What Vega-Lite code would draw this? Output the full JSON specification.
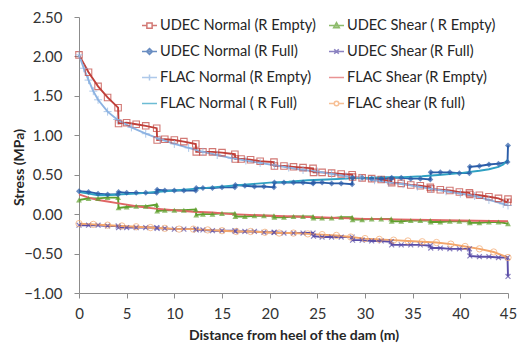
{
  "$schema": "https://vega.github.io/schema/vega-lite/v6.json",
  "width": 429,
  "height": 276,
  "autosize": {"type": "none"},
  "padding": {"left": 79, "top": 17, "right": 9, "bottom": 51},
  "background": "white",
  "config": {
    "view": {"stroke": null},
    "axis": {"grid": false, "domainColor": "#8c8c8c", "tickColor": "#8c8c8c", "tickSize": 5, "labelFont": "Lato", "labelFontSize": 15, "labelColor": "#333333", "titleFont": "Lato", "titleFontSize": 14, "titleFontWeight": "bold", "titleColor": "#262626"},
    "legend": {"orient": "none", "legendY": 0, "padding": 0, "symbolSize": 225, "symbolStrokeWidth": 1.5, "labelFont": "Lato", "labelFontSize": 14.6, "labelColor": "#262626", "labelOffset": 2, "rowPadding": 10, "labelLimit": 0}
  },
  "resolve": {"scale": {"stroke": "independent", "fill": "independent", "shape": "independent"}},
  "datasets": {
    "names": [
      {"k": "A", "s": "UDEC Normal (R Empty)"},
      {"k": "B", "s": "UDEC Shear ( R Empty)"},
      {"k": "C", "s": "UDEC Normal (R Full)"},
      {"k": "D", "s": "UDEC Shear (R Full)"},
      {"k": "E", "s": "FLAC Normal (R Empty)"},
      {"k": "F", "s": "FLAC Shear (R Empty)"},
      {"k": "G", "s": "FLAC Normal ( R Full)"},
      {"k": "H", "s": "FLAC shear  (R full)"}
    ],
    "pts": [
      {"k":"A","x":0,"y":2.02},{"k":"A","x":1,"y":1.8},{"k":"A","x":2,"y":1.62},{"k":"A","x":3,"y":1.48},{"k":"A","x":4.1,"y":1.35},
      {"k":"A","x":4.15,"y":1.15},{"k":"A","x":5,"y":1.16},{"k":"A","x":6,"y":1.14},{"k":"A","x":7,"y":1.12},{"k":"A","x":8.15,"y":1.09},
      {"k":"A","x":8.2,"y":0.94},{"k":"A","x":9,"y":0.95},{"k":"A","x":10,"y":0.94},{"k":"A","x":11,"y":0.92},{"k":"A","x":12.25,"y":0.89},
      {"k":"A","x":12.3,"y":0.79},{"k":"A","x":13,"y":0.79},{"k":"A","x":14,"y":0.79},{"k":"A","x":15,"y":0.78},{"k":"A","x":16.35,"y":0.76},
      {"k":"A","x":16.4,"y":0.7},{"k":"A","x":17,"y":0.7},{"k":"A","x":18,"y":0.69},{"k":"A","x":19,"y":0.67},{"k":"A","x":20.45,"y":0.66},
      {"k":"A","x":20.5,"y":0.61},{"k":"A","x":21.5,"y":0.61},{"k":"A","x":22.5,"y":0.6},{"k":"A","x":23.5,"y":0.59},{"k":"A","x":24.55,"y":0.58},
      {"k":"A","x":24.6,"y":0.53},{"k":"A","x":25.5,"y":0.53},{"k":"A","x":26.5,"y":0.52},{"k":"A","x":27.5,"y":0.51},{"k":"A","x":28.65,"y":0.5},
      {"k":"A","x":28.7,"y":0.47},{"k":"A","x":29.7,"y":0.46},{"k":"A","x":30.7,"y":0.45},{"k":"A","x":31.7,"y":0.44},{"k":"A","x":32.75,"y":0.42},
      {"k":"A","x":32.8,"y":0.4},{"k":"A","x":33.8,"y":0.39},{"k":"A","x":34.8,"y":0.37},{"k":"A","x":35.8,"y":0.36},{"k":"A","x":36.85,"y":0.34},
      {"k":"A","x":36.9,"y":0.32},{"k":"A","x":37.9,"y":0.31},{"k":"A","x":38.9,"y":0.3},{"k":"A","x":39.9,"y":0.28},{"k":"A","x":40.95,"y":0.27},
      {"k":"A","x":41,"y":0.25},{"k":"A","x":42,"y":0.24},{"k":"A","x":43,"y":0.22},{"k":"A","x":44,"y":0.2},{"k":"A","x":44.95,"y":0.15},{"k":"A","x":45,"y":0.19},

      {"k":"C","x":0,"y":0.29},{"k":"C","x":1,"y":0.28},{"k":"C","x":2,"y":0.26},{"k":"C","x":3,"y":0.25},{"k":"C","x":4.1,"y":0.25},
      {"k":"C","x":4.15,"y":0.28},{"k":"C","x":5,"y":0.27},{"k":"C","x":6,"y":0.27},{"k":"C","x":7,"y":0.27},{"k":"C","x":8.15,"y":0.27},
      {"k":"C","x":8.2,"y":0.31},{"k":"C","x":9,"y":0.3},{"k":"C","x":10,"y":0.3},{"k":"C","x":11,"y":0.3},{"k":"C","x":12.25,"y":0.3},
      {"k":"C","x":12.3,"y":0.33},{"k":"C","x":13,"y":0.33},{"k":"C","x":14,"y":0.33},{"k":"C","x":15,"y":0.34},{"k":"C","x":16.35,"y":0.34},
      {"k":"C","x":16.4,"y":0.37},{"k":"C","x":17.4,"y":0.36},{"k":"C","x":18.4,"y":0.35},{"k":"C","x":19.4,"y":0.35},{"k":"C","x":20.45,"y":0.34},
      {"k":"C","x":20.5,"y":0.4},{"k":"C","x":21.5,"y":0.4},{"k":"C","x":22.5,"y":0.4},{"k":"C","x":23.5,"y":0.4},{"k":"C","x":24.55,"y":0.39},
      {"k":"C","x":24.6,"y":0.4},{"k":"C","x":25.5,"y":0.4},{"k":"C","x":26.5,"y":0.39},{"k":"C","x":27.5,"y":0.39},{"k":"C","x":28.65,"y":0.38},
      {"k":"C","x":28.7,"y":0.46},{"k":"C","x":29.7,"y":0.46},{"k":"C","x":30.7,"y":0.45},{"k":"C","x":31.7,"y":0.45},{"k":"C","x":32.75,"y":0.45},
      {"k":"C","x":32.8,"y":0.46},{"k":"C","x":33.8,"y":0.46},{"k":"C","x":34.8,"y":0.45},{"k":"C","x":35.8,"y":0.45},{"k":"C","x":36.85,"y":0.44},
      {"k":"C","x":36.9,"y":0.53},{"k":"C","x":37.9,"y":0.53},{"k":"C","x":38.9,"y":0.53},{"k":"C","x":39.9,"y":0.52},{"k":"C","x":40.95,"y":0.52},
      {"k":"C","x":41,"y":0.6},{"k":"C","x":42,"y":0.61},{"k":"C","x":43,"y":0.63},{"k":"C","x":44,"y":0.64},{"k":"C","x":44.95,"y":0.66},{"k":"C","x":45,"y":0.87},

      {"k":"E","x":0,"y":2.02},{"k":"E","x":0.5,"y":1.85},{"k":"E","x":1,"y":1.7},{"k":"E","x":1.5,"y":1.56},{"k":"E","x":2,"y":1.45},{"k":"E","x":3,"y":1.3},{"k":"E","x":4,"y":1.2},{"k":"E","x":5.5,"y":1.1},{"k":"E","x":7,"y":1.02},{"k":"E","x":8.5,"y":0.95},{"k":"E","x":10,"y":0.89},{"k":"E","x":11.5,"y":0.84},{"k":"E","x":13,"y":0.79},{"k":"E","x":14.5,"y":0.75},{"k":"E","x":16,"y":0.71},{"k":"E","x":17.5,"y":0.68},{"k":"E","x":19,"y":0.65},{"k":"E","x":20.5,"y":0.62},{"k":"E","x":22,"y":0.59},{"k":"E","x":23.5,"y":0.56},{"k":"E","x":25,"y":0.54},{"k":"E","x":26.5,"y":0.51},{"k":"E","x":28,"y":0.48},{"k":"E","x":29.5,"y":0.46},{"k":"E","x":31,"y":0.43},{"k":"E","x":32.5,"y":0.4},{"k":"E","x":34,"y":0.38},{"k":"E","x":35.5,"y":0.35},{"k":"E","x":37,"y":0.32},{"k":"E","x":38.5,"y":0.29},{"k":"E","x":40,"y":0.26},{"k":"E","x":41.5,"y":0.23},{"k":"E","x":43,"y":0.18},{"k":"E","x":44.5,"y":0.13},{"k":"E","x":45,"y":0.11},

      {"k":"G","x":0,"y":0.28},{"k":"G","x":1,"y":0.26},{"k":"G","x":2,"y":0.24},{"k":"G","x":3,"y":0.24},{"k":"G","x":4,"y":0.25},{"k":"G","x":6,"y":0.26},{"k":"G","x":8,"y":0.28},{"k":"G","x":10,"y":0.3},{"k":"G","x":12,"y":0.32},{"k":"G","x":14,"y":0.34},{"k":"G","x":16,"y":0.36},{"k":"G","x":18,"y":0.38},{"k":"G","x":20,"y":0.4},{"k":"G","x":22,"y":0.41},{"k":"G","x":24,"y":0.43},{"k":"G","x":26,"y":0.44},{"k":"G","x":28,"y":0.45},{"k":"G","x":30,"y":0.46},{"k":"G","x":32,"y":0.47},{"k":"G","x":34,"y":0.47},{"k":"G","x":36,"y":0.48},{"k":"G","x":38,"y":0.5},{"k":"G","x":40,"y":0.52},{"k":"G","x":42,"y":0.55},{"k":"G","x":43,"y":0.57},{"k":"G","x":44,"y":0.6},{"k":"G","x":44.5,"y":0.63},{"k":"G","x":45,"y":0.69},

      {"k":"B","x":0,"y":0.18},{"k":"B","x":1,"y":0.2},{"k":"B","x":2,"y":0.2},{"k":"B","x":3,"y":0.21},{"k":"B","x":4.1,"y":0.21},
      {"k":"B","x":4.15,"y":0.08},{"k":"B","x":5,"y":0.09},{"k":"B","x":6,"y":0.1},{"k":"B","x":7,"y":0.1},{"k":"B","x":8.15,"y":0.12},
      {"k":"B","x":8.2,"y":0.04},{"k":"B","x":9,"y":0.05},{"k":"B","x":10,"y":0.05},{"k":"B","x":11,"y":0.05},{"k":"B","x":12.25,"y":0.06},
      {"k":"B","x":12.3,"y":-0.01},{"k":"B","x":13,"y":0},{"k":"B","x":14,"y":0},{"k":"B","x":15,"y":0.01},{"k":"B","x":16.35,"y":0.01},
      {"k":"B","x":16.4,"y":-0.03},{"k":"B","x":17.4,"y":-0.03},{"k":"B","x":18.4,"y":-0.02},{"k":"B","x":19.4,"y":-0.02},{"k":"B","x":20.45,"y":-0.02},
      {"k":"B","x":20.5,"y":-0.04},{"k":"B","x":21.5,"y":-0.04},{"k":"B","x":22.5,"y":-0.03},{"k":"B","x":23.5,"y":-0.03},{"k":"B","x":24.55,"y":-0.03},
      {"k":"B","x":24.6,"y":-0.05},{"k":"B","x":25.5,"y":-0.05},{"k":"B","x":26.5,"y":-0.05},{"k":"B","x":27.5,"y":-0.04},{"k":"B","x":28.65,"y":-0.04},
      {"k":"B","x":28.7,"y":-0.07},{"k":"B","x":29.7,"y":-0.07},{"k":"B","x":30.7,"y":-0.06},{"k":"B","x":31.7,"y":-0.06},{"k":"B","x":32.75,"y":-0.06},
      {"k":"B","x":32.8,"y":-0.09},{"k":"B","x":33.8,"y":-0.09},{"k":"B","x":34.8,"y":-0.08},{"k":"B","x":35.8,"y":-0.08},{"k":"B","x":36.85,"y":-0.08},
      {"k":"B","x":36.9,"y":-0.1},{"k":"B","x":37.9,"y":-0.1},{"k":"B","x":38.9,"y":-0.09},{"k":"B","x":39.9,"y":-0.09},{"k":"B","x":40.95,"y":-0.09},
      {"k":"B","x":41,"y":-0.11},{"k":"B","x":42,"y":-0.11},{"k":"B","x":43,"y":-0.1},{"k":"B","x":44,"y":-0.1},{"k":"B","x":45,"y":-0.12},

      {"k":"F","x":0,"y":0.25},{"k":"F","x":1,"y":0.21},{"k":"F","x":2,"y":0.18},{"k":"F","x":3,"y":0.16},{"k":"F","x":4,"y":0.14},{"k":"F","x":6,"y":0.1},{"k":"F","x":8,"y":0.07},{"k":"F","x":10,"y":0.05},{"k":"F","x":12,"y":0.03},{"k":"F","x":14,"y":0.02},{"k":"F","x":16,"y":0},{"k":"F","x":20,"y":-0.02},{"k":"F","x":25,"y":-0.04},{"k":"F","x":30,"y":-0.06},{"k":"F","x":35,"y":-0.07},{"k":"F","x":40,"y":-0.08},{"k":"F","x":45,"y":-0.09},

      {"k":"D","x":0,"y":-0.14},{"k":"D","x":1,"y":-0.14},{"k":"D","x":2,"y":-0.14},{"k":"D","x":3,"y":-0.15},{"k":"D","x":4.1,"y":-0.15},
      {"k":"D","x":4.15,"y":-0.17},{"k":"D","x":5,"y":-0.17},{"k":"D","x":6,"y":-0.17},{"k":"D","x":7,"y":-0.17},{"k":"D","x":8.15,"y":-0.17},
      {"k":"D","x":8.2,"y":-0.18},{"k":"D","x":9,"y":-0.18},{"k":"D","x":10,"y":-0.19},{"k":"D","x":11,"y":-0.19},{"k":"D","x":12.25,"y":-0.19},
      {"k":"D","x":12.3,"y":-0.2},{"k":"D","x":13,"y":-0.2},{"k":"D","x":14,"y":-0.21},{"k":"D","x":15,"y":-0.21},{"k":"D","x":16.35,"y":-0.21},
      {"k":"D","x":16.4,"y":-0.22},{"k":"D","x":17.4,"y":-0.22},{"k":"D","x":18.4,"y":-0.22},{"k":"D","x":19.4,"y":-0.23},{"k":"D","x":20.45,"y":-0.23},
      {"k":"D","x":20.5,"y":-0.23},{"k":"D","x":21.5,"y":-0.24},{"k":"D","x":22.5,"y":-0.24},{"k":"D","x":23.5,"y":-0.24},{"k":"D","x":24.55,"y":-0.24},
      {"k":"D","x":24.6,"y":-0.28},{"k":"D","x":25.5,"y":-0.29},{"k":"D","x":26.5,"y":-0.29},{"k":"D","x":27.5,"y":-0.29},{"k":"D","x":28.65,"y":-0.29},
      {"k":"D","x":28.7,"y":-0.33},{"k":"D","x":29.7,"y":-0.33},{"k":"D","x":30.7,"y":-0.34},{"k":"D","x":31.7,"y":-0.34},{"k":"D","x":32.75,"y":-0.35},
      {"k":"D","x":32.8,"y":-0.39},{"k":"D","x":33.8,"y":-0.39},{"k":"D","x":34.8,"y":-0.39},{"k":"D","x":35.8,"y":-0.39},{"k":"D","x":36.85,"y":-0.4},
      {"k":"D","x":36.9,"y":-0.43},{"k":"D","x":37.9,"y":-0.43},{"k":"D","x":38.9,"y":-0.44},{"k":"D","x":39.9,"y":-0.44},{"k":"D","x":40.95,"y":-0.44},
      {"k":"D","x":41,"y":-0.53},{"k":"D","x":42,"y":-0.54},{"k":"D","x":43,"y":-0.54},{"k":"D","x":44,"y":-0.55},{"k":"D","x":44.95,"y":-0.55},{"k":"D","x":45,"y":-0.79},

      {"k":"H","x":0,"y":-0.12},{"k":"H","x":1.5,"y":-0.13},{"k":"H","x":3,"y":-0.14},{"k":"H","x":4.5,"y":-0.15},{"k":"H","x":6,"y":-0.16},{"k":"H","x":7.5,"y":-0.17},{"k":"H","x":9,"y":-0.18},{"k":"H","x":10.5,"y":-0.19},{"k":"H","x":12,"y":-0.19},{"k":"H","x":13.5,"y":-0.2},{"k":"H","x":15,"y":-0.21},{"k":"H","x":16.5,"y":-0.22},{"k":"H","x":18,"y":-0.22},{"k":"H","x":19.5,"y":-0.23},{"k":"H","x":21,"y":-0.24},{"k":"H","x":22.5,"y":-0.24},{"k":"H","x":24,"y":-0.25},{"k":"H","x":25.5,"y":-0.26},{"k":"H","x":27,"y":-0.27},{"k":"H","x":28.5,"y":-0.29},{"k":"H","x":30,"y":-0.31},{"k":"H","x":31.5,"y":-0.32},{"k":"H","x":33,"y":-0.33},{"k":"H","x":34.5,"y":-0.34},{"k":"H","x":36,"y":-0.35},{"k":"H","x":37.5,"y":-0.36},{"k":"H","x":39,"y":-0.38},{"k":"H","x":40.5,"y":-0.41},{"k":"H","x":42,"y":-0.44},{"k":"H","x":43.5,"y":-0.48},{"k":"H","x":45,"y":-0.55}
    ]
  },
  "data": {"name": "pts"},
  "transform": [{"lookup": "k", "from": {"data": {"name": "names"}, "key": "k", "fields": ["s"]}}],
  "encoding": {
    "x": {"field": "x", "type": "quantitative", "scale": {"domain": [0, 45], "nice": false}, "axis": {"values": [0, 5, 10, 15, 20, 25, 30, 35, 40, 45], "title": "Distance from heel of the dam (m)", "labelPadding": 8, "titlePadding": 7, "labelFlush": false}},
    "y": {"field": "y", "type": "quantitative", "scale": {"domain": [-1, 2.5], "nice": false, "zero": false}, "axis": {"values": [-1, -0.5, 0, 0.5, 1, 1.5, 2, 2.5], "format": ".2f", "title": "Stress  (MPa)", "labelPadding": 12, "titleX": -53, "titleY": 150, "labelFlush": false}}
  },
  "layer": [
    {
      "mark": {"type": "line", "strokeWidth": 1.9},
      "encoding": {
        "color": {"field": "k", "type": "nominal", "legend": null, "scale": {"domain": ["A", "B", "C", "D", "E", "F", "G", "H"], "range": ["#C0403A", "#5FA02E", "#2B5DA8", "#5B4EA8", "#8DB3E2", "#E06666", "#2FA0C2", "#F4A66A"]}}
      }
    },
    {"transform": [{"filter": {"field": "k", "equal": "A"}}], "mark": {"type": "point", "shape": "square", "filled": false, "size": 42, "strokeWidth": 1.1}, "encoding": {"color": {"field": "k", "type": "nominal", "legend": null}}},
    {"transform": [{"filter": {"field": "k", "equal": "B"}}], "mark": {"type": "point", "shape": "triangle-up", "filled": true, "size": 34}, "encoding": {"color": {"field": "k", "type": "nominal", "legend": null}}},
    {"transform": [{"filter": {"field": "k", "equal": "C"}}], "mark": {"type": "point", "shape": "diamond", "filled": true, "size": 36}, "encoding": {"color": {"field": "k", "type": "nominal", "legend": null}}},
    {"transform": [{"filter": {"field": "k", "equal": "D"}}], "mark": {"type": "point", "shape": "M-1,-1L1,1M-1,1L1,-1", "filled": false, "size": 24, "strokeWidth": 1.2}, "encoding": {"color": {"field": "k", "type": "nominal", "legend": null}}},
    {"transform": [{"filter": {"field": "k", "equal": "E"}}], "mark": {"type": "point", "shape": "M-1,0H1M0,-1V1", "filled": false, "size": 64, "strokeWidth": 1}, "encoding": {"color": {"field": "k", "type": "nominal", "legend": null}}},
    {"transform": [{"filter": {"field": "k", "equal": "H"}}], "mark": {"type": "point", "shape": "circle", "filled": false, "size": 40, "strokeWidth": 1}, "encoding": {"color": {"field": "k", "type": "nominal", "legend": null}}},
    {
      "transform": [{"filter": "datum.x > 1000"}],
      "mark": {"type": "point"},
      "encoding": {
        "stroke": {"field": "s", "type": "nominal", "title": null, "legend": {"legendX": 62}, "scale": {"domain": ["UDEC Normal (R Empty)", "UDEC Normal (R Full)", "FLAC Normal (R Empty)", "FLAC Normal ( R Full)"], "range": ["#C0403A", "#2B5DA8", "#8DB3E2", "#2FA0C2"]}},
        "fill": {"field": "s", "type": "nominal", "title": null, "legend": {"legendX": 62}, "scale": {"domain": ["UDEC Normal (R Empty)", "UDEC Normal (R Full)", "FLAC Normal (R Empty)", "FLAC Normal ( R Full)"], "range": ["transparent", "#2B5DA8", "transparent", "transparent"]}},
        "shape": {"field": "s", "type": "nominal", "title": null, "legend": {"legendX": 62}, "scale": {"domain": ["UDEC Normal (R Empty)", "UDEC Normal (R Full)", "FLAC Normal (R Empty)", "FLAC Normal ( R Full)"], "range": ["M-1,0H-0.35M0.35,0H1M-0.35,-0.35H0.35V0.35H-0.35Z", "M-1,0H1M0,-0.4L0.4,0L0,0.4L-0.4,0Z", "M-1,0H1M0,-0.4V0.4", "M-1,0H1"]}}
      }
    },
    {
      "transform": [{"filter": "datum.x > 1000"}],
      "mark": {"type": "point"},
      "encoding": {
        "stroke": {"field": "s", "type": "nominal", "title": null, "legend": {"legendX": 249}, "scale": {"domain": ["UDEC Shear ( R Empty)", "UDEC Shear (R Full)", "FLAC Shear (R Empty)", "FLAC shear  (R full)"], "range": ["#5FA02E", "#5B4EA8", "#E06666", "#F4A66A"]}},
        "fill": {"field": "s", "type": "nominal", "title": null, "legend": {"legendX": 249}, "scale": {"domain": ["UDEC Shear ( R Empty)", "UDEC Shear (R Full)", "FLAC Shear (R Empty)", "FLAC shear  (R full)"], "range": ["#5FA02E", "transparent", "transparent", "transparent"]}},
        "shape": {"field": "s", "type": "nominal", "title": null, "legend": {"legendX": 249}, "scale": {"domain": ["UDEC Shear ( R Empty)", "UDEC Shear (R Full)", "FLAC Shear (R Empty)", "FLAC shear  (R full)"], "range": ["M-1,0H1M0,-0.4L0.38,0.3H-0.38Z", "M-1,0H1M-0.3,-0.3L0.3,0.3M-0.3,0.3L0.3,-0.3", "M-1,0H1", "M-1,0H-0.3M0.3,0H1M0.3,0A0.3,0.3 0 1,1 -0.3,0A0.3,0.3 0 1,1 0.3,0Z"]}}
      }
    }
  ]
}
